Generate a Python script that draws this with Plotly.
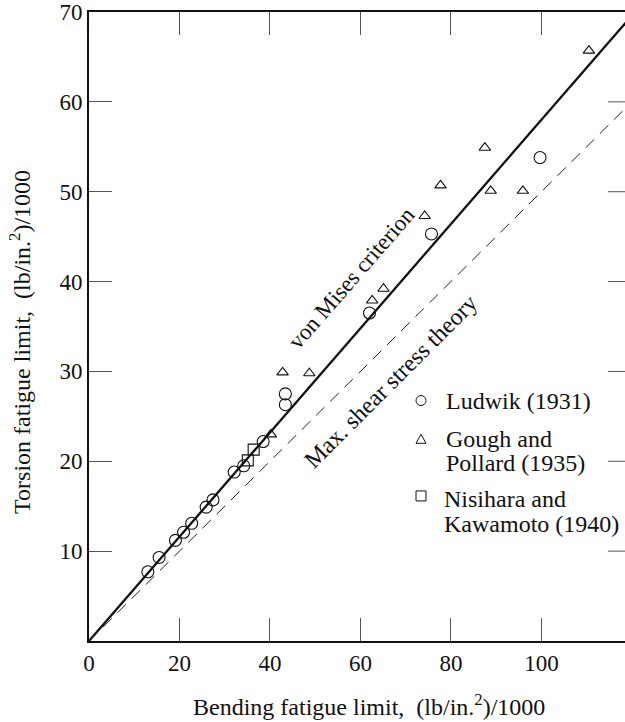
import plotly.graph_objects as go

# ---- data ----
ludwik_x = [13.0, 15.5, 19.1, 20.9, 22.7, 25.9, 27.4, 32.1, 34.2, 38.5, 43.4, 43.4, 62.0, 75.7, 99.7]
ludwik_y = [7.7, 9.3, 11.2, 12.1, 13.1, 14.9, 15.7, 18.8, 19.5, 22.2, 27.5, 26.3, 36.5, 45.3, 53.8]

gough_x = [40.2, 42.8, 48.7, 62.6, 65.1, 74.2, 77.7, 87.5, 88.8, 95.9, 110.5]
gough_y = [23.0, 29.9, 29.8, 37.9, 39.2, 47.3, 50.7, 54.9, 50.1, 50.1, 65.7]

nisihara_x = [35.1, 36.4]
nisihara_y = [20.1, 21.3]

line_x = [0, 120]
von_mises_slope = 0.58
max_shear_slope = 0.5

x_ticks = [0, 20, 40, 60, 80, 100]
y_ticks = [10, 20, 30, 40, 50, 60, 70]

FONT = "Liberation Serif"
FS = 24

fig = go.Figure()

fig.add_trace(go.Scatter(x=line_x, y=[v * von_mises_slope for v in line_x], mode="lines",
                         line=dict(color="#111", width=2.3), showlegend=False, hoverinfo="skip"))
fig.add_trace(go.Scatter(x=line_x, y=[v * max_shear_slope for v in line_x], mode="lines",
                         line=dict(color="#222", width=1, dash="12px,8px"), showlegend=False, hoverinfo="skip"))

mk = dict(color="#111", line=dict(color="#111", width=1.1))
fig.add_trace(go.Scatter(x=ludwik_x, y=ludwik_y, mode="markers", showlegend=False,
                         marker=dict(symbol="circle-open", size=12, **mk)))
fig.add_trace(go.Scatter(x=gough_x, y=gough_y, mode="markers", showlegend=False,
                         marker=dict(symbol="triangle-up-open", size=10, **mk)))
fig.add_trace(go.Scatter(x=nisihara_x, y=nisihara_y, mode="markers", showlegend=False,
                         marker=dict(symbol="square-open", size=11, **mk)))

W, H = 625, 722
L, R, T, B = 89, 0, 8, 81
PW, PH = W - L - R, H - T - B

def pxx(p):
    return (p - L) / PW

def pxy(p):
    return (H - B - p) / PH

shapes = []
# right-side inward ticks (no right axis line visible)
for v in y_ticks[:-1]:
    shapes.append(dict(type="line", xref="paper", yref="y", x0=1 - 17 / PW, x1=1, y0=v, y1=v,
                       line=dict(color="#555", width=1)))
# legend symbols
shapes.append(dict(type="circle", xref="paper", yref="paper", xsizemode="pixel", ysizemode="pixel",
                   xanchor=pxx(421), yanchor=pxy(399), x0=-5, x1=5, y0=-5, y1=5,
                   line=dict(color="#111", width=1)))
shapes.append(dict(type="path", xref="paper", yref="paper", xsizemode="pixel", ysizemode="pixel",
                   xanchor=pxx(421), yanchor=pxy(438), path="M-5,-4 L5,-4 L0,5 Z",
                   line=dict(color="#111", width=1)))
shapes.append(dict(type="rect", xref="paper", yref="paper", xsizemode="pixel", ysizemode="pixel",
                   xanchor=pxx(421), yanchor=pxy(495), x0=-5, x1=5, y0=-5, y1=5,
                   line=dict(color="#111", width=1)))

ann = []
legend_lines = [
    ("Ludwik (1931)", 444, 399),
    ("Gough and", 444, 438),
    ("Pollard (1935)", 444, 462),
    ("Nisihara and", 442, 498),
    ("Kawamoto (1940)", 442, 523),
]
for txt, lx, ly in legend_lines:
    ann.append(dict(text=txt, xref="paper", yref="paper", x=pxx(lx), y=pxy(ly),
                    xanchor="left", yanchor="middle", showarrow=False,
                    font=dict(family=FONT, size=FS, color="#111")))

ann.append(dict(text="von Mises criterion", xref="paper", yref="paper", x=pxx(351), y=pxy(276),
                textangle=-49, showarrow=False, xanchor="center", yanchor="middle",
                font=dict(family=FONT, size=23, color="#111")))
ann.append(dict(text="Max. shear stress theory", xref="paper", yref="paper", x=pxx(390), y=pxy(380),
                textangle=-45, showarrow=False, xanchor="center", yanchor="middle",
                font=dict(family=FONT, size=FS, color="#111")))

ann.append(dict(text="Bending fatigue limit,\u00a0 (lb/in.<sup>2</sup>)/1000", xref="paper", yref="paper",
                x=pxx(369), y=pxy(705), showarrow=False, xanchor="center", yanchor="middle",
                font=dict(family=FONT, size=FS, color="#111")))
ann.append(dict(text="Torsion fatigue limit,\u00a0 (lb/in.<sup>2</sup>)/1000", xref="paper", yref="paper",
                x=pxx(20), y=pxy(340), showarrow=False, xanchor="center", yanchor="middle",
                textangle=-90, font=dict(family=FONT, size=FS, color="#111")))

fig.update_layout(
    width=W, height=H,
    margin=dict(l=L, r=R, t=T, b=B),
    paper_bgcolor="white", plot_bgcolor="white",
    showlegend=False,
    shapes=shapes, annotations=ann,
    font=dict(family=FONT, size=FS, color="#111"),
)
fig.update_xaxes(range=[0, PW / 4.524], tickvals=x_ticks, ticktext=[str(v) for v in x_ticks],
                 ticks="inside", ticklen=23, tickwidth=1, tickcolor="#555",
                 showline=True, linecolor="#111", linewidth=2, mirror="ticks",
                 ticklabeloverflow="allow",
                 showgrid=False, zeroline=False, tickfont=dict(family=FONT, size=23, color="#111"))
fig.update_yaxes(range=[0, 70], tickvals=y_ticks, ticktext=[str(v) for v in y_ticks],
                 ticks="inside", ticklen=23, tickwidth=1, tickcolor="#555",
                 showline=True, linecolor="#111", linewidth=2, mirror=False,
                 ticklabeloverflow="allow",
                 showgrid=False, zeroline=False, tickfont=dict(family=FONT, size=23, color="#111"))

fig.write_html("out.html", config={"displayModeBar": False},
               post_script="document.body.style.margin='0px';document.body.style.padding='0px';")
